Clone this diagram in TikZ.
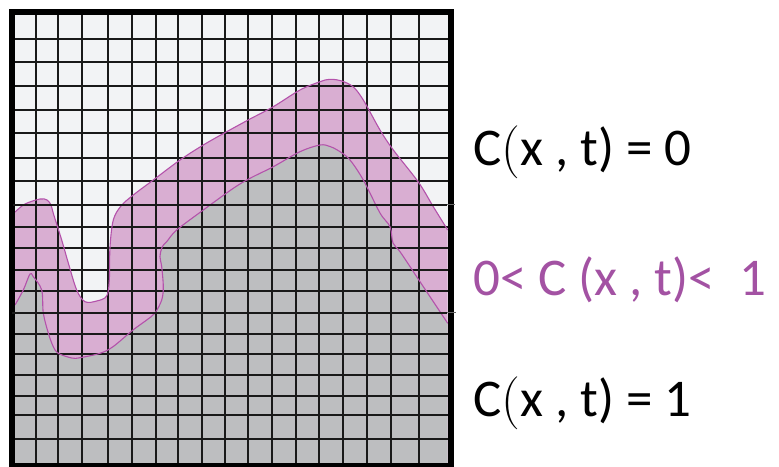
\documentclass[tikz,border=0pt]{standalone}
\usepackage{fontspec}
\usepackage{xcolor}
\newfontfamily\calibri{Carlito}
\definecolor{emptycol}{HTML}{F2F3F5}
\definecolor{fullcol}{HTML}{BDBEC0}
\definecolor{bandcol}{HTML}{D9AED2}
\definecolor{bandline}{HTML}{B452AB}
\definecolor{bandtext}{HTML}{A352A3}
\usetikzlibrary{positioning}

\begin{document}
\begin{tikzpicture}[
    x=1pt, y=-1pt,
    gridline/.style={black!90, line width=2pt},
    interface/.style={bandline, line width=1.1pt},
    label/.style={anchor=base west, inner sep=0pt, font=\calibri\fontsize{53}{60}\selectfont}
]
    \useasboundingbox (0,0) rectangle (779,466);

    % background and the two phases
    \fill[emptycol] (12,12) rectangle (450.5,466);
    \fill[bandcol] (15,470) -- plot[smooth, tension=0.55] coordinates {
        (15,212) (25,204) (40,199) (47,200) (51,205) (53.5,214) (61.7,240)
        (68.3,263) (76.7,290) (85,301.7) (96.7,301) (106.7,296) (109.3,280)
        (110,247) (113.3,220) (121,206) (133.3,195) (153.3,180) (180,160)
        (203.3,145) (226.7,131.7) (250,119) (273.3,106.7) (300,90) (320,81.7)
        (330,79.3) (341.7,81) (353.3,87) (363.3,100) (380,130) (393.3,150)
        (418.3,182) (433.3,206.7) (447.7,230)} -- (447.7,470) -- cycle;
    \fill[fullcol] (15,470) -- plot[smooth, tension=0.55] coordinates {
        (15,305) (23.3,290) (30,274) (33.3,276.7) (41.7,290) (43.3,313)
        (48.3,333) (53.3,346.7) (58.3,353.3) (71.7,358) (80,357.7) (100,353.3)
        (113,346.7) (133,330) (146.7,320) (155,313) (161.7,300) (163.3,286.7)
        (161.7,266.7) (160,256.7) (162.3,246.7) (166.7,241.7) (176.7,230)
        (203.3,210) (233.3,188.3) (250,178.3) (273.3,166.7) (300,151.7)
        (320,145) (330,146.5) (340,151.7) (350,160) (363.3,180) (380,213)
        (390,226.7) (393,243) (400,251.7) (416.7,276.7) (447.7,323.3)}
        -- (447.7,470) -- cycle;

    % grid
    \foreach \gx in {35.7,58.3,82.3,108.3,132.3,155.7,177.7,201.5,225,248.3,
                     272,295.8,319.3,343,367.3,391.3,419.3}
        \draw[gridline] (\gx,12) -- (\gx,466);
    \foreach \gy in {39,62.3,85.7,110,133.3,157.5,181,227,248.3,270,291,
                     334,354.3,375,395.7,415,439.3}
        \draw[gridline] (12,\gy) -- (450.5,\gy);

    % interfaces
    \draw[interface] plot[smooth, tension=0.55] coordinates {
        (15,212) (25,204) (40,199) (47,200) (51,205) (53.5,214) (61.7,240)
        (68.3,263) (76.7,290) (85,301.7) (96.7,301) (106.7,296) (109.3,280)
        (110,247) (113.3,220) (121,206) (133.3,195) (153.3,180) (180,160)
        (203.3,145) (226.7,131.7) (250,119) (273.3,106.7) (300,90) (320,81.7)
        (330,79.3) (341.7,81) (353.3,87) (363.3,100) (380,130) (393.3,150)
        (418.3,182) (433.3,206.7) (447.7,230)};
    \draw[interface] plot[smooth, tension=0.55] coordinates {
        (15,305) (23.3,290) (30,274) (33.3,276.7) (41.7,290) (43.3,313)
        (48.3,333) (53.3,346.7) (58.3,353.3) (71.7,358) (80,357.7) (100,353.3)
        (113,346.7) (133,330) (146.7,320) (155,313) (161.7,300) (163.3,286.7)
        (161.7,266.7) (160,256.7) (162.3,246.7) (166.7,241.7) (176.7,230)
        (203.3,210) (233.3,188.3) (250,178.3) (273.3,166.7) (300,151.7)
        (320,145) (330,146.5) (340,151.7) (350,160) (363.3,180) (380,213)
        (390,226.7) (393,243) (400,251.7) (416.7,276.7) (447.7,323.3)};

    % frame, with the two longer rows
    \draw[black, line width=6pt] (12,12) rectangle (450.5,466);
    \draw[gridline] (13,204.5) -- (447,204.5);
    \draw[black!60, line width=1.6pt] (447,204.5) -- (455,204.5);
    \draw[gridline] (12,312.5) -- (447,312.5);
    \draw[black!60, line width=1.6pt] (447,312.5) -- (456,312.5);

    % labels
    \node[label] (empty) at (473,165) {C{\rmfamily(}x , t) = 0};
    \node[label, text=bandtext] (mixed) at (473,295) {0< C (x , t)<~~1};
    \node[label] (full) at (473,416) {C{\rmfamily(}x , t) = 1};
\end{tikzpicture}
\end{document}
